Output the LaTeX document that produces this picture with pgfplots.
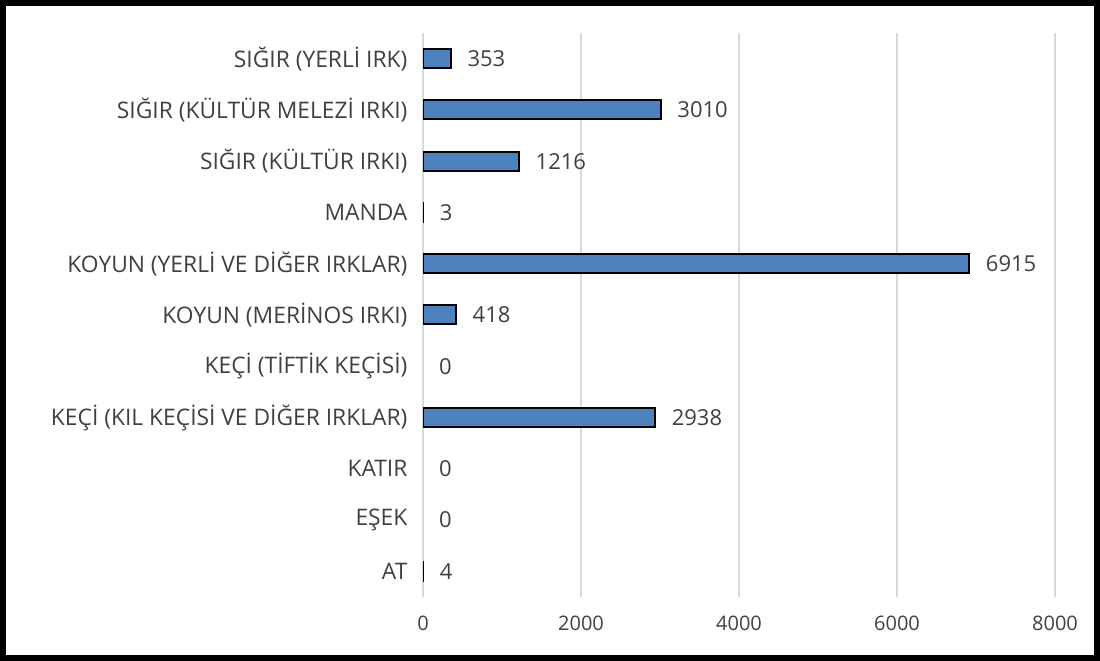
\documentclass[border=0pt]{standalone}
\usepackage{pgfplots}
\pgfplotsset{compat=1.18}
\usepackage{fontspec}
\setmainfont{Open Sans}
\definecolor{barblue}{HTML}{4F81BD}
\definecolor{gridgray}{HTML}{D9D9D9}
\definecolor{txt}{HTML}{404040}

\begin{document}
\begin{tikzpicture}
\begin{axis}[
    name=ax,
    scale only axis,
    width=316pt,height=282pt,
    xbar,
    bar width=9.5pt,
    bar shift=0pt,
    xmin=0,xmax=8000,
    ymin=-0.5,ymax=10.5,
    xtick={0,2000,4000,6000,8000},
    ytick={0,...,10},
    yticklabels={AT,EŞEK,KATIR,KEÇİ (KIL KEÇİSİ VE DİĞER IRKLAR),KEÇİ (TİFTİK KEÇİSİ),KOYUN (MERİNOS IRKI),KOYUN (YERLİ VE DİĞER IRKLAR),MANDA,SIĞIR (KÜLTÜR IRKI),SIĞIR (KÜLTÜR MELEZİ IRKI),SIĞIR (YERLİ IRK)},
    axis line style={draw=none},
    major tick style={draw=none},
    xmajorgrids,
    grid style={gridgray,line width=0.8pt},
    /pgf/number format/assume math mode=true,
    /pgf/number format/1000 sep={},
    xticklabel style={font=\fontsize{10}{12}\selectfont,text=txt,yshift=-6pt},
    yticklabel style={font=\fontsize{11.4}{13}\selectfont,text=txt,xshift=0pt},
    nodes near coords,
    nodes near coords style={font=\fontsize{11}{13}\selectfont,text=txt,anchor=west,xshift=4.5pt},
]
\addplot[fill=barblue,draw=black,line width=1pt] coordinates {
(4,0) (2938,3) (418,5) (6915,6) (3,7) (1216,8) (3010,9) (353,10)};
\addplot[draw=none,fill=none] coordinates {(0,1) (0,2) (0,4)};
\end{axis}
\draw[line width=3pt] ([shift={(-210pt,-30.5pt)}]ax.south west) rectangle ([shift={(21pt,15pt)}]ax.north east);
\end{tikzpicture}
\end{document}
